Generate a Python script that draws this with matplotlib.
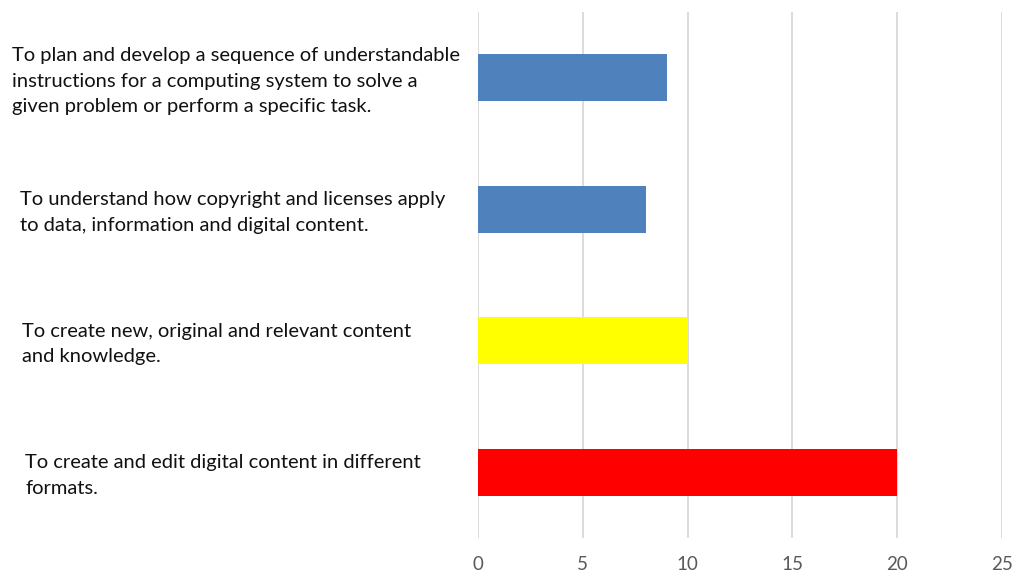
import matplotlib
matplotlib.use("Agg")
import matplotlib.pyplot as plt
from matplotlib.transforms import blended_transform_factory

# Competence descriptions, listed bottom to top
labels = [
    "To create and edit digital content in different\nformats.",
    "To create new, original and relevant content\nand knowledge.",
    "To understand how copyright and licenses apply\nto data, information and digital content.",
    "To plan and develop a sequence of understandable\ninstructions for a computing system to solve a\ngiven problem or perform a specific task.",
]
values = [20, 10, 8, 9]
colors = ["#ff0000", "#ffff00", "#4f81bd", "#4f81bd"]
xticks = [0, 5, 10, 15, 20, 25]

# left edge (figure pixels) of each wrapped label block
label_left_px = [25, 22, 20, 12]

plt.rcParams["font.family"] = ["Lato", "DejaVu Sans"]

W, H = 1019, 581
fig = plt.figure(figsize=(W / 100, H / 100), dpi=100)
ax = fig.add_axes([478 / W, 1 - 538 / H, (1002 - 478) / W, (538 - 12) / H])

ypos = list(range(len(labels)))
ax.barh(ypos, values, height=0.36, color=colors, zorder=3)

ax.set_xlim(0, 25)
ax.set_ylim(-0.5, len(labels) - 0.5)
ax.set_xticks(xticks)
ax.set_xticklabels([str(t) for t in xticks], color="#595959", fontsize=13.5)
ax.set_yticks([])
ax.tick_params(axis="x", length=0, pad=13)
ax.grid(axis="x", color="#d9d9d9", linewidth=1.3, zorder=0)
for s in ax.spines.values():
    s.set_visible(False)

trans = blended_transform_factory(fig.transFigure, ax.transData)
for y, text, lx in zip(ypos, labels, label_left_px):
    ax.text(lx / W, y - 0.025, text, transform=trans, ha="left", va="center",
            multialignment="left", fontsize=14.5, color="#111111",
            linespacing=1.6, clip_on=False)

fig.savefig("out.png", dpi=100, facecolor="white")
